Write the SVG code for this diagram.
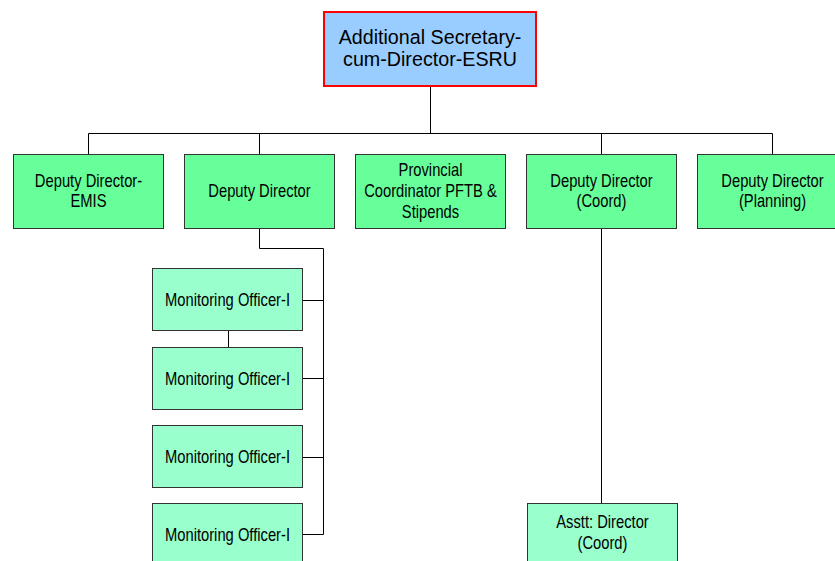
<svg xmlns="http://www.w3.org/2000/svg" width="835" height="561" viewBox="0 0 835 561">
<style>
.box{fill:#66FF99;stroke:#333333;stroke-width:1}
.sub{fill:#99FFCC;stroke:#333333;stroke-width:1}
.top{fill:#99CCFF;stroke:#FF0000;stroke-width:2}
.t{font-family:"Liberation Sans",Arial,sans-serif;font-size:18px;fill:#000;text-anchor:middle}
.tt{font-family:"Liberation Sans",Arial,sans-serif;font-size:19.7px;fill:#000;text-anchor:middle}
.c{fill:none;stroke:#000;stroke-width:1}
</style>
<rect width="835" height="561" fill="#FFFFFF"/>
<g id="connectors">
<path class="c" d="M430.5 86V133.5M88.5 154V133.5H772.5V154M259.5 133.5V154M601.5 133.5V154"/>
<path class="c" d="M259.5 228V248.5H323.5V534.5H303M303 300.5H323.5M303 378.5H323.5M303 457.5H323.5"/>
<path class="c" d="M228.5 331V347"/>
<path class="c" d="M601.5 228V503"/>
</g>
<g id="n-top">
<rect class="top" x="324" y="12" width="212" height="74"/>
<text class="tt" x="430" y="44">Additional Secretary-</text>
<text class="tt" x="430" y="66">cum-Director-ESRU</text>
</g>
<g id="n-emis">
<rect class="box" x="13.5" y="154.5" width="150" height="74"/>
<text class="t" transform="translate(88.5 187) scale(0.82 1)">Deputy Director-</text>
<text class="t" transform="translate(88.5 207) scale(0.82 1)">EMIS</text>
</g>
<g id="n-dd">
<rect class="box" x="184.5" y="154.5" width="150" height="74"/>
<text class="t" transform="translate(259.5 197) scale(0.82 1)">Deputy Director</text>
</g>
<g id="n-prov">
<rect class="box" x="355.5" y="154.5" width="150" height="74"/>
<text class="t" transform="translate(430.5 176) scale(0.82 1)">Provincial</text>
<text class="t" transform="translate(430.5 197) scale(0.82 1)">Coordinator PFTB &amp;</text>
<text class="t" transform="translate(430.5 218) scale(0.82 1)">Stipends</text>
</g>
<g id="n-coord">
<rect class="box" x="526.5" y="154.5" width="150" height="74"/>
<text class="t" transform="translate(601.5 187) scale(0.82 1)">Deputy Director</text>
<text class="t" transform="translate(601.5 207) scale(0.82 1)">(Coord)</text>
</g>
<g id="n-plan">
<rect class="box" x="697.5" y="154.5" width="150" height="74"/>
<text class="t" transform="translate(772.5 187) scale(0.82 1)">Deputy Director</text>
<text class="t" transform="translate(772.5 207) scale(0.82 1)">(Planning)</text>
</g>
<g id="n-mo1">
<rect class="sub" x="152.5" y="268.5" width="150" height="62"/>
<text class="t" transform="translate(227.5 306) scale(0.82 1)">Monitoring Officer-I</text>
</g>
<g id="n-mo2">
<rect class="sub" x="152.5" y="347.5" width="150" height="62"/>
<text class="t" transform="translate(227.5 385) scale(0.82 1)">Monitoring Officer-I</text>
</g>
<g id="n-mo3">
<rect class="sub" x="152.5" y="425.5" width="150" height="62"/>
<text class="t" transform="translate(227.5 463) scale(0.82 1)">Monitoring Officer-I</text>
</g>
<g id="n-mo4">
<rect class="sub" x="152.5" y="503.5" width="150" height="62"/>
<text class="t" transform="translate(227.5 541) scale(0.82 1)">Monitoring Officer-I</text>
</g>
<g id="n-asst">
<rect class="sub" x="527.5" y="503.5" width="150" height="62"/>
<text class="t" transform="translate(602.5 528) scale(0.82 1)">Asstt: Director</text>
<text class="t" transform="translate(602.5 549) scale(0.82 1)">(Coord)</text>
</g>
</svg>
